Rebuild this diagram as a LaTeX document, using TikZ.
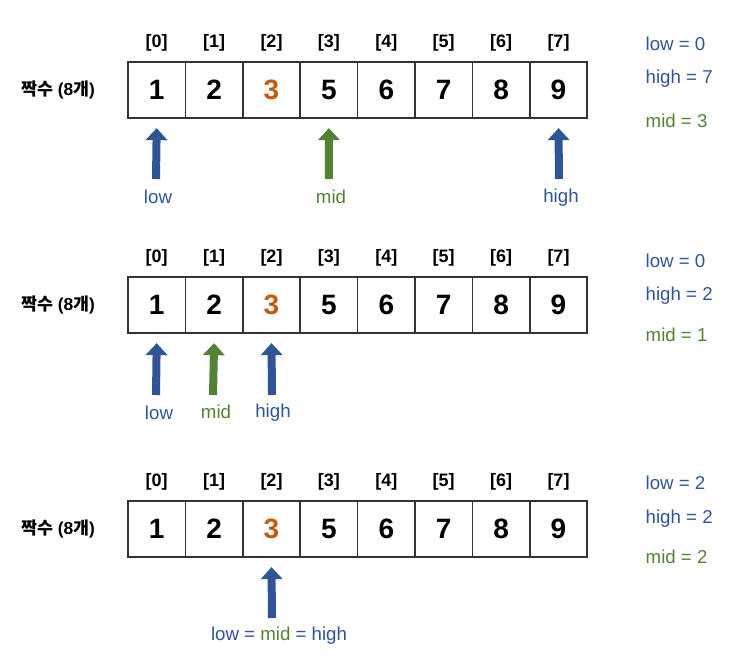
\documentclass[tikz,border=0pt]{standalone}
\usepackage{fontspec}
\setmainfont{Liberation Sans}
\newfontfamily\kr{Noto Sans CJK KR}
\usetikzlibrary{arrows.meta}
\definecolor{cb}{HTML}{2F5597}
\definecolor{cg}{HTML}{548235}
\definecolor{co}{HTML}{C55A11}
\tikzset{
 cell/.style={draw=black!80,line width=1.2pt,minimum width=43pt,minimum height=42pt,inner sep=0pt,font=\fontsize{21}{21}\selectfont\bfseries},
 idx/.style={font=\fontsize{13.5}{13.5}\selectfont\bfseries},
 side/.style={font=\fontsize{13}{13}\selectfont\bfseries},
 info/.style={anchor=west,font=\fontsize{14}{14}\selectfont},
 lbl/.style={font=\fontsize{14}{14}\selectfont},
 arr/.style={line width=6pt,-{Triangle[width=16pt 0,length=9pt 0]}},
}
\begin{document}
\begin{tikzpicture}[x=0.75pt,y=-0.75pt]
\useasboundingbox (0,0) rectangle (744,658);
\foreach \r/\yc in {a/90,b/305,c/529}{
  \node[side] (\r s) at (58,\yc) {{\kr\bfseries 짝수} (8{\kr\bfseries 개})};
  \foreach \v [count=\i from 0] in {1,2,{\textcolor{co}{3}},5,6,7,8,9}{
    \node[cell] (\r\i) at (156.7+57.4*\i,\yc) {\v};
    \node[idx] (\r i\i) at (156.7+57.4*\i,\yc-47) {[\i]};
  }
}
% info
\node[info,text=cb] (ia1) at (641,44) {low = 0};
\node[info,text=cb] (ia2) at (641,79) {high = 7};
\node[info,text=cg] (ia3) at (641,121) {mid = 3};
\node[info,text=cb] (ib1) at (641,261) {low = 0};
\node[info,text=cb] (ib2) at (641,296) {high = 2};
\node[info,text=cg] (ib3) at (641,335) {mid = 1};
\node[info,text=cb] (ic1) at (641,483) {low = 2};
\node[info,text=cb] (ic2) at (641,519) {high = 2};
\node[info,text=cg] (ic3) at (641,557) {mid = 2};
% row a
\node[lbl,text=cb] (la) at (158,197) {low};
\node[lbl,text=cg] (ma) at (331,197) {mid};
\node[lbl,text=cb] (ha) at (561,198) {high};
\draw[arr,cb] (156,179) -- ([yshift=-7pt]a0.south);
\draw[arr,cg] (329,179) -- ([yshift=-7pt]a3.south);
\draw[arr,cb] (559,179) -- ([yshift=-7pt]a7.south);
% row b
\node[lbl,text=cb] (lb) at (159,413) {low};
\node[lbl,text=cg] (mb) at (216,412) {mid};
\node[lbl,text=cb] (hb) at (273,413) {high};
\draw[arr,cb] (156,395) -- ([yshift=-7pt]b0.south);
\draw[arr,cg] (213,395) -- ([yshift=-7pt]b1.south);
\draw[arr,cb] (272,395) -- ([yshift=-7pt]b2.south);
% row c
\node[lbl] (lc) at (279,636) {\textcolor{cb}{low =} \textcolor{cg}{mid} \textcolor{cb}{= high}};
\draw[arr,cb] (272,618) -- ([yshift=-7pt]c2.south);
\end{tikzpicture}
\end{document}
